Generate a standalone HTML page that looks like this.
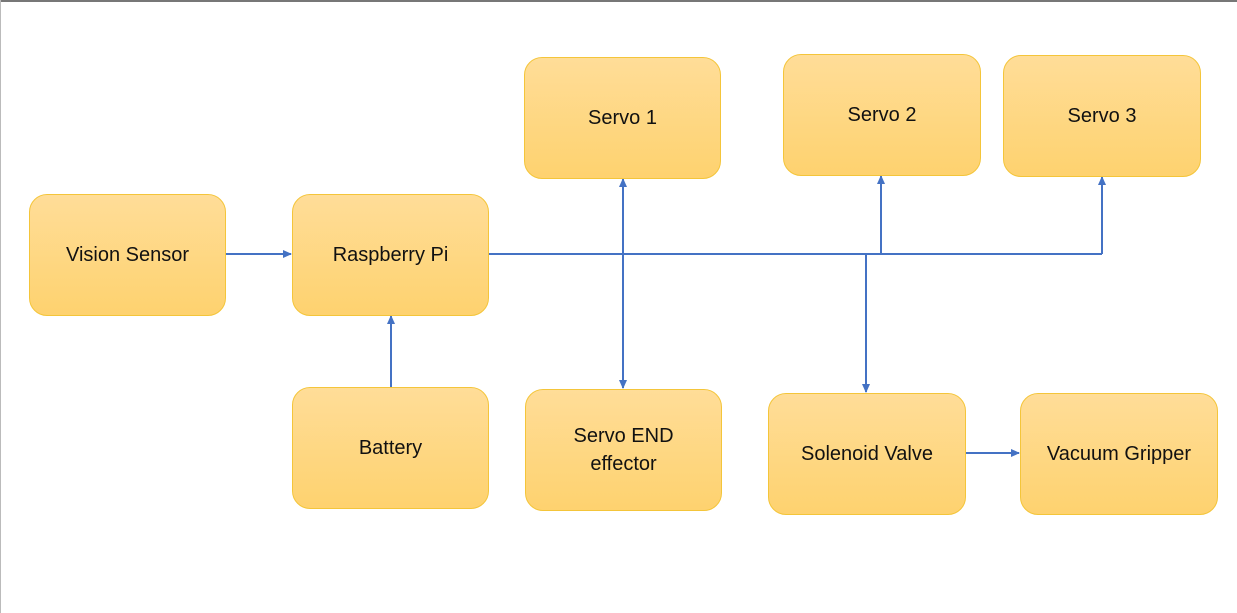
<!DOCTYPE html>
<html><head><meta charset="utf-8"><style>
body{margin:0;width:1237px;height:613px;background:#fff;overflow:hidden;position:relative;font-family:"Liberation Sans",sans-serif}
.b{position:absolute;box-sizing:border-box;border:1.3px solid #F4C53A;border-radius:18px;background:linear-gradient(#FFDD98,#FED26F);display:flex;align-items:center;justify-content:center;text-align:center;font-size:20px;color:#111;line-height:28px}
</style></head><body>
<div style="position:absolute;left:0;top:0;width:1237px;height:2px;background:#777"></div>
<div style="position:absolute;left:0;top:0;width:1px;height:613px;background:#bbb"></div>
<svg width="1237" height="613" style="position:absolute;left:0;top:0">
<defs><marker id="a" markerWidth="9" markerHeight="9" refX="8" refY="4.5" orient="auto" markerUnits="userSpaceOnUse"><path d="M0,0.5 L9,4.5 L0,8.5z" fill="#4472C4"/></marker></defs>
<g stroke="#4472C4" stroke-width="2" fill="none">
<line x1="489" y1="254" x2="1102" y2="254"/>
<line x1="225" y1="254" x2="291" y2="254" marker-end="url(#a)"/>
<line x1="391" y1="387" x2="391" y2="316" marker-end="url(#a)"/>
<line x1="623" y1="254" x2="623" y2="179" marker-end="url(#a)"/>
<line x1="623" y1="254" x2="623" y2="388" marker-end="url(#a)"/>
<line x1="881" y1="254" x2="881" y2="176" marker-end="url(#a)"/>
<line x1="1102" y1="254" x2="1102" y2="177" marker-end="url(#a)"/>
<line x1="866" y1="254" x2="866" y2="392" marker-end="url(#a)"/>
<line x1="965" y1="453" x2="1019" y2="453" marker-end="url(#a)"/>
</g></svg>
<div class="b" style="left:29px;top:194px;width:197px;height:122px">Vision Sensor</div>
<div class="b" style="left:292px;top:194px;width:197px;height:122px">Raspberry Pi</div>
<div class="b" style="left:524px;top:57px;width:197px;height:122px">Servo 1</div>
<div class="b" style="left:783px;top:54px;width:198px;height:122px">Servo 2</div>
<div class="b" style="left:1003px;top:55px;width:198px;height:122px">Servo 3</div>
<div class="b" style="left:292px;top:387px;width:197px;height:122px">Battery</div>
<div class="b" style="left:525px;top:389px;width:197px;height:122px">Servo END<br>effector</div>
<div class="b" style="left:768px;top:393px;width:198px;height:122px">Solenoid Valve</div>
<div class="b" style="left:1020px;top:393px;width:198px;height:122px">Vacuum Gripper</div>
</body></html>
